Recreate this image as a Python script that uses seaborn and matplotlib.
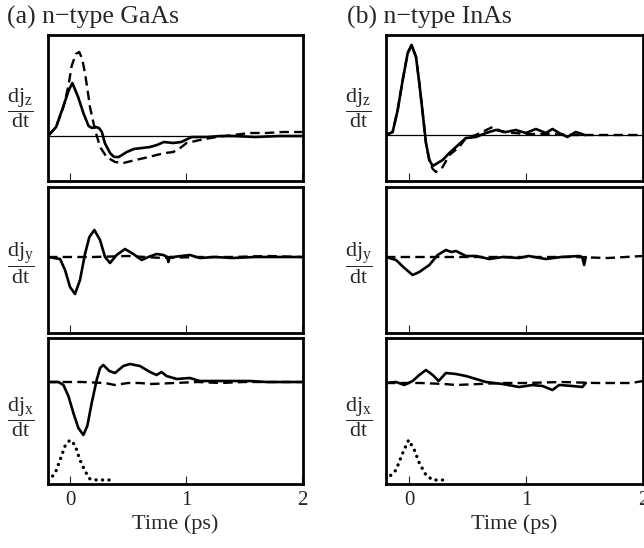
import numpy as np
import matplotlib
matplotlib.use("Agg")
import matplotlib.pyplot as plt
import seaborn as sns

# ==========================================
# DATA (arbitrary units)
# ==========================================
# --- (a) n-type GaAs ---
gaas_z_t_solid = [-0.19, -0.12, -0.06, -0.01, 0.02, 0.07, 0.115, 0.16, 0.19, 0.22, 0.25, 0.275,
                  0.30, 0.345, 0.38, 0.42, 0.49, 0.55, 0.62, 0.69, 0.75, 0.81, 0.89, 0.96, 1.05,
                  1.18, 1.3, 1.41, 1.6, 1.8, 2.0]
gaas_z_solid = [0, 9, 29, 46, 53, 39, 23, 10, 8, 9, 8, 4, -7, -17, -21, -21, -16, -13, -12, -11,
                -9, -6, -7, -6, -1, -1, 0, 0, -1, 0, 0]
gaas_z_t_dash = [-0.19, -0.12, -0.057, -0.014, 0.014, 0.05, 0.08, 0.105, 0.129, 0.15, 0.172, 0.216,
                 0.259, 0.316, 0.388, 0.46, 0.53, 0.603, 0.68, 0.747, 0.82, 0.891, 0.95, 1.006,
                 1.12, 1.264, 1.41, 1.552, 1.695, 1.84, 2.0]
gaas_z_dash = [0, 9, 29, 50, 70, 82, 84, 77, 63, 47, 29, 6, -11, -21, -26, -27, -25, -23, -21, -19,
               -17, -16, -12, -7, -4, -1, 1, 3, 3, 4, 4]

gaas_y_t_solid = [-0.19, -0.086, -0.043, 0.0, 0.043, 0.086, 0.129, 0.167, 0.21, 0.259, 0.302, 0.345,
                  0.402, 0.474, 0.546, 0.618, 0.675, 0.747, 0.805, 0.84, 0.848, 0.86, 0.891, 0.96,
                  1.034, 1.12, 1.25, 1.4, 1.6, 1.8, 2.0]
gaas_y_solid = [0, -2, -13, -30, -37, -23, 3, 20, 27, 17, 0, -6, 2, 8, 3, -3, 0, 3, 2, 0, -5, 0, 0,
                1, 2, -1, 0, -1, 0, 0, 0]
gaas_y_t_dash = [-0.19, 0.2, 0.5, 0.8, 1.1, 1.4, 1.7, 2.0]
gaas_y_dash = [0, 0, 1, -1, 0, 0, 1, 0]

gaas_x_t_solid = [-0.19, -0.1, -0.057, -0.014, 0.029, 0.072, 0.115, 0.149, 0.187, 0.23, 0.259,
                  0.287, 0.339, 0.388, 0.46, 0.517, 0.603, 0.69, 0.747, 0.79, 0.833, 0.92, 1.034,
                  1.12, 1.3, 1.41, 1.552, 1.695, 1.85, 2.0]
gaas_x_solid = [0, 0, -3, -14, -31, -46, -53, -44, -21, 2, 14, 17, 11, 9, 16, 18, 16, 10, 7, 10, 6,
                3, 4, 1, 1, 1, 1, 0, 0, 0]
gaas_x_t_dash = [-0.19, 0.1, 0.3, 0.388, 0.5, 0.6, 0.7, 0.9, 1.1, 1.3, 1.5, 1.7, 2.0]
gaas_x_dash = [0, 0, -1, -3, -1, -1, -2, -1, 0, -1, 0, 0, 0]

gaas_pulse_t = [-0.187, -0.128, -0.086, -0.043, 0.0, 0.043, 0.086, 0.129, 0.172, 0.23, 0.3, 0.388]
gaas_pulse = [-99, -91, -78, -64, -58, -63, -78, -89, -97, -98, -98, -98]

# --- (b) n-type InAs ---
inas_z_t_solid = [-0.2, -0.143, -0.1, -0.057, -0.014, 0.019, 0.057, 0.085, 0.114, 0.142, 0.171,
                  0.2, 0.242, 0.285, 0.342, 0.399, 0.484, 0.57, 0.655, 0.74, 0.826, 0.912, 0.997,
                  1.083, 1.168, 1.225, 1.282, 1.353, 1.425, 1.5]
inas_z_solid = [0, 3, 25, 55, 82, 90, 78, 52, 22, -8, -25, -31, -28, -25, -18, -12, -3, -2, 2, 5,
                3, 5, 2, 6, 2, 6, 2, -2, 3, 0]
inas_z_t_dash = [-0.2, -0.143, -0.1, -0.057, -0.014, 0.019, 0.057, 0.085, 0.114, 0.142, 0.171, 0.2,
                 0.228, 0.285, 0.342, 0.427, 0.484, 0.57, 0.64, 0.712, 0.8, 0.9, 1.0, 1.2, 1.4,
                 1.6, 1.8, 2.0]
inas_z_dash = [0, 3, 25, 55, 82, 90, 78, 52, 22, -8, -26, -34, -37, -32, -20, -12, -3, 0, 4, 8, 3,
               2, 1, 1, 0, 0, 0, 0]

inas_y_t_solid = [-0.2, -0.114, -0.043, 0.028, 0.085, 0.171, 0.242, 0.313, 0.36, 0.399, 0.484, 0.57,
                  0.684, 0.8, 0.94, 1.02, 1.168, 1.3, 1.453, 1.48, 1.496, 1.51]
inas_y_solid = [0, -3, -11, -18, -15, -8, 2, 7, 5, 6, 1, 1, -2, 0, -1, 1, -2, 0, 1, 0, -8, 0]
inas_y_t_dash = [-0.2, 0.2, 0.5, 0.8, 1.1, 1.4, 1.7, 2.0]
inas_y_dash = [0, 0, 0, 0, 0, 0, -1, 1]

inas_x_t_solid = [-0.2, -0.114, -0.043, 0.028, 0.085, 0.142, 0.2, 0.25, 0.313, 0.399, 0.484, 0.57,
                  0.655, 0.798, 0.94, 1.054, 1.14, 1.225, 1.282, 1.396, 1.481, 1.51]
inas_x_solid = [0, 1, -2, 2, 8, 13, 8, 2, 10, 9, 7, 4, 1, -1, -4, -2, -3, -7, -2, -3, -4, 0]
inas_x_t_dash = [-0.2, 0.1, 0.3, 0.4, 0.6, 0.8, 1.0, 1.3, 1.6, 1.9, 2.0]
inas_x_dash = [0, 0, -1, -2, -1, 0, 0, 1, 0, 0, 2]

inas_pulse_t = [-0.2, -0.114, -0.057, -0.006, 0.043, 0.085, 0.142, 0.2, 0.285]
inas_pulse = [-97, -87, -70, -57, -67, -80, -92, -97, -97]

titles = ["(a) n\u2212type GaAs", "(b) n\u2212type InAs"]
ylabels = [r"$\dfrac{\mathrm{dj}_\mathrm{z}}{\mathrm{dt}}$",
           r"$\dfrac{\mathrm{dj}_\mathrm{y}}{\mathrm{dt}}$",
           r"$\dfrac{\mathrm{dj}_\mathrm{x}}{\mathrm{dt}}$"]
xticks = [0, 1, 2]

# ==========================================
# STYLE
# ==========================================
sns.set_style("ticks")
plt.rcParams["font.family"] = ["Liberation Serif", "DejaVu Serif"]
plt.rcParams["mathtext.fontset"] = "custom"
plt.rcParams["mathtext.rm"] = "Liberation Serif"
plt.rcParams["mathtext.it"] = "Liberation Serif:italic"

W, H = 644, 548
fig = plt.figure(figsize=(W / 100, H / 100), dpi=100)

col_px = [(48, 303), (386, 643)]
row_px = [(35, 181), (187, 333), (338, 484)]
xlims = [(-0.19, 2.01), (-0.2, 2.0)]
ylims = [[(-45, 101), (-76, 70), (-102, 44)],
         [(-46, 100), (-76, 70), (-101, 45)]]
label_y = [0.5, 0.48, 0.46]

panels = [
    [(gaas_z_t_solid, gaas_z_solid, gaas_z_t_dash, gaas_z_dash),
     (gaas_y_t_solid, gaas_y_solid, gaas_y_t_dash, gaas_y_dash),
     (gaas_x_t_solid, gaas_x_solid, gaas_x_t_dash, gaas_x_dash)],
    [(inas_z_t_solid, inas_z_solid, inas_z_t_dash, inas_z_dash),
     (inas_y_t_solid, inas_y_solid, inas_y_t_dash, inas_y_dash),
     (inas_x_t_solid, inas_x_solid, inas_x_t_dash, inas_x_dash)],
]
pulses = [(gaas_pulse_t, gaas_pulse), (inas_pulse_t, inas_pulse)]

for c in range(2):
    x0, x1 = col_px[c]
    for r in range(3):
        y0, y1 = row_px[r]
        ax = fig.add_axes([x0 / W, 1 - y1 / H, (x1 - x0) / W, (y1 - y0) / H])
        ts, vs, td, vd = panels[c][r]

        if r == 0:
            ax.axhline(0, color="black", lw=0.9)

        sns.lineplot(x=td, y=vd, ax=ax, color="black", lw=1.7,
                     linestyle=(0, (4, 2.2)), estimator=None, sort=False)
        sns.lineplot(x=ts, y=vs, ax=ax, color="black", lw=1.9,
                     estimator=None, sort=False)
        if r == 2:
            pt, pv = pulses[c]
            sns.lineplot(x=pt, y=pv, ax=ax, color="black", lw=2.4,
                         linestyle=(0, (0.05, 1.9)), dash_capstyle="round",
                         estimator=None, sort=False)

        ax.set_xlim(*xlims[c])
        ax.set_ylim(*ylims[c][r])
        ax.set_xticks(xticks)
        ax.set_yticks([])
        ax.tick_params(axis="x", direction="in", length=6, width=0.8,
                       labelsize=15, pad=5)
        for sp in ax.spines.values():
            sp.set_visible(True)
            sp.set_linewidth(2.0)
            sp.set_color("black")

        ax.set_ylabel(ylabels[r], rotation=0, fontsize=16, ha="left", va="center")
        ax.yaxis.set_label_coords(-0.16, label_y[r])

        if r < 2:
            ax.set_xticklabels([])
            ax.set_xlabel("")
        else:
            ax.set_xticklabels([str(v) for v in xticks])
            ax.set_xlabel("Time (ps)", fontsize=16, labelpad=3)

    fig.text((7 if c == 0 else 347) / W, 1 - 17 / H, titles[c],
             fontsize=18.5, ha="left", va="center")

fig.savefig("out.png", dpi=100)
